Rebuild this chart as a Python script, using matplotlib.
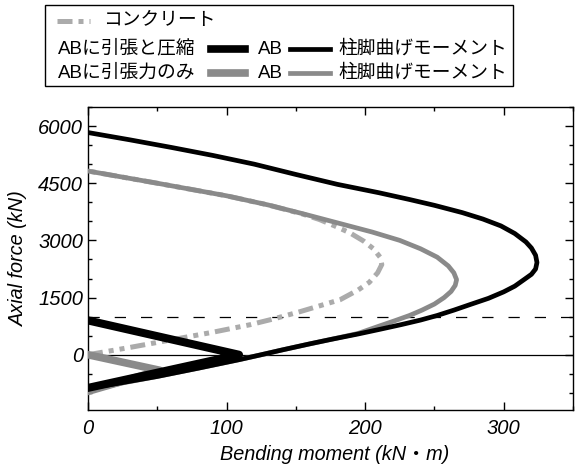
import matplotlib
matplotlib.use("Agg")
import matplotlib.pyplot as plt
from matplotlib.lines import Line2D
from matplotlib.patches import Rectangle
from matplotlib.ticker import MultipleLocator

# ---- data (M: bending moment kN·m, N: axial force kN) ----
black_curve_M = [0, 30, 60, 90, 120, 150, 180, 210, 232, 250, 270, 285, 298, 308, 316, 320, 323, 324, 323, 320, 315, 308, 300, 289, 276, 264, 252, 240, 226, 211, 195, 175, 160, 140, 125, 109, 80, 50, 25, 0]
black_curve_N = [5830, 5640, 5440, 5230, 5000, 4730, 4470, 4250, 4073, 3920, 3730, 3560, 3380, 3180, 2960, 2800, 2610, 2420, 2250, 2110, 1980, 1800, 1650, 1480, 1320, 1170, 1030, 910, 790, 670, 545, 400, 285, 125, 0, -130, -350, -570, -730, -880]

gray_curve_M = [0, 50, 100, 130, 155, 180, 205, 225, 240, 252, 260, 264, 266, 265, 262, 257, 250, 241, 232, 222, 210, 195, 175, 160, 140, 125, 109, 80, 50, 25, 0]
gray_curve_N = [4820, 4500, 4170, 3930, 3700, 3460, 3220, 3000, 2780, 2560, 2330, 2150, 1970, 1820, 1660, 1500, 1330, 1170, 1030, 900, 750, 560, 400, 285, 125, 0, -130, -350, -570, -740, -950]

concrete_M = [0, 30, 60, 90, 117, 135, 153, 165, 182, 195, 203, 209, 212, 211, 206, 199, 189, 178, 167, 155, 130, 100, 50, 0]
concrete_N = [0, 190, 390, 590, 788, 950, 1130, 1260, 1445, 1700, 1900, 2150, 2365, 2550, 2780, 2980, 3198, 3380, 3548, 3690, 3930, 4170, 4500, 4820]

black_ab_M = [0, 109, 0]
black_ab_N = [900, 0, -870]

gray_ab_M = [0, 52, 0]
gray_ab_N = [0, -410, -960]

limit_N = 1000

x_ticks = [0, 100, 200, 300]
y_ticks = [0, 1500, 3000, 4500, 6000]

FONT = ['Liberation Sans', 'Noto Sans CJK JP', 'DejaVu Sans']
plt.rcParams['font.family'] = FONT

W, H = 579, 472
fig = plt.figure(figsize=(W / 100, H / 100), dpi=100)
ax = fig.add_axes([88 / W, 1 - 410 / H, (573 - 88) / W, (410 - 107) / H])

BLACK = '#000000'
GRAY = '#8a8a8a'
LGRAY = '#ababab'

ax.axhline(0, color='black', lw=0.9, zorder=1)
ax.axhline(limit_N, color='black', lw=0.9, ls=(0, (9, 12)), zorder=1)

ax.plot(concrete_M, concrete_N, color=LGRAY, lw=3.6, dashes=(3, 1.2, 1, 1.2, 1, 1.2),
        dash_capstyle='butt', zorder=2)
ax.plot(gray_curve_M, gray_curve_N, color=GRAY, lw=3.4, solid_joinstyle='round', zorder=3)
ax.plot(gray_ab_M, gray_ab_N, color=GRAY, lw=5.5, zorder=4)
ax.plot(black_curve_M, black_curve_N, color=BLACK, lw=3.4, solid_joinstyle='round', zorder=5)
ax.plot(black_ab_M, black_ab_N, color=BLACK, lw=5.8, zorder=6)

ax.set_xlim(0, 350)
ax.set_ylim(-1450, 6500)
ax.set_xticks(x_ticks)
ax.set_yticks(y_ticks)
ax.xaxis.set_minor_locator(MultipleLocator(50))
ax.yaxis.set_minor_locator(MultipleLocator(500))
ax.tick_params(which='both', direction='in', top=True, right=True, width=1.0)
ax.tick_params(which='major', length=5.5, labelsize=14.5)
ax.tick_params(axis='x', which='major', pad=6.5)
ax.tick_params(axis='y', which='major', pad=3.5)
ax.tick_params(which='minor', length=3.2)
for lab in ax.get_xticklabels() + ax.get_yticklabels():
    lab.set_fontstyle('italic')
for s in ax.spines.values():
    s.set_linewidth(1.0)

ax.set_xlabel('Bending moment (kN・m)', fontsize=14.3, fontstyle='italic')
ax.set_ylabel('Axial force (kN)', fontsize=14.3, fontstyle='italic')
ax.xaxis.set_label_coords(0.508, -0.117)
ax.yaxis.set_label_coords(-0.124, 0.5)

# ---- custom legend ----
def fx(px):
    return px / W

def fy(py):
    return 1 - py / H

fig.add_artist(Rectangle((fx(45), fy(86)), fx(513) - fx(45), fy(5) - fy(86),
                         transform=fig.transFigure, fill=False, lw=1.0, ec='black'))

LFS = 13.5
def sample(x0, x1, y, **kw):
    fig.add_artist(Line2D([fx(x0), fx(x1)], [fy(y), fy(y)], transform=fig.transFigure, **kw))

def label(x, y, s):
    fig.text(fx(x), fy(y), s, fontsize=LFS, va='center', ha='left', family=FONT)

sample(57, 90, 21, color=LGRAY, lw=3.6, dashes=(3, 1.2, 1, 1.2, 1, 1.2), dash_capstyle='butt')
label(103, 21, 'コンクリート')

label(58, 49, 'ABに引張と圧縮')
sample(211, 245, 49, color=BLACK, lw=5.5)
label(258, 49, 'AB')
sample(290, 330, 49, color=BLACK, lw=3.4)
label(338, 49, '柱脚曲げモーメント')

label(58, 73, 'ABに引張力のみ')
sample(211, 245, 73, color=GRAY, lw=5.5)
label(258, 73, 'AB')
sample(290, 330, 73, color=GRAY, lw=3.4)
label(338, 73, '柱脚曲げモーメント')

fig.savefig('out.png', dpi=100)
